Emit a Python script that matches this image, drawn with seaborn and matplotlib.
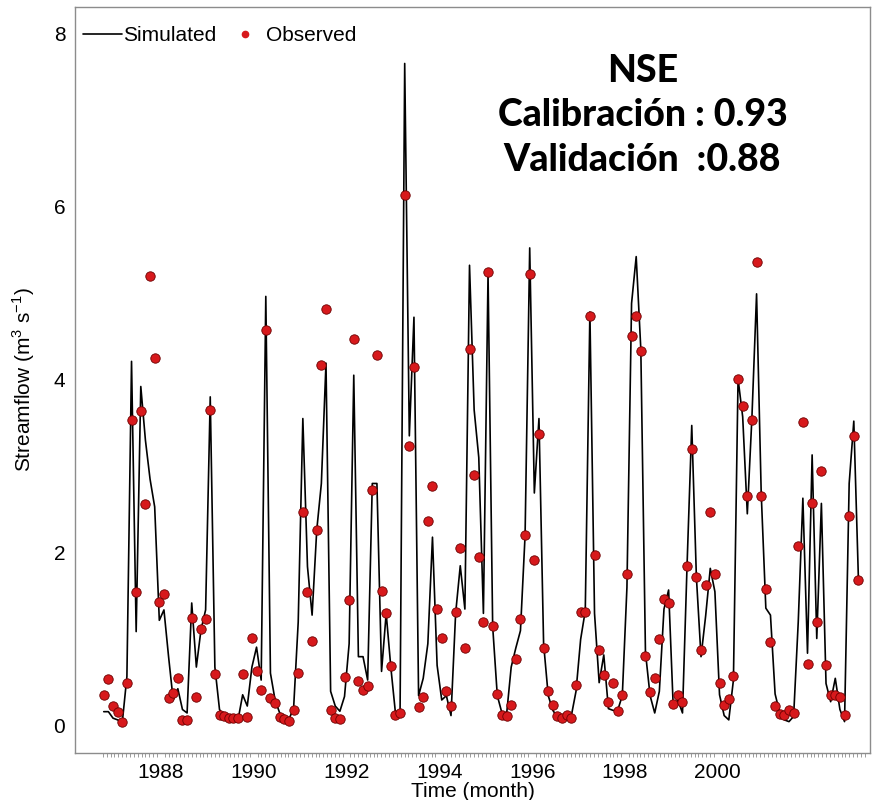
import numpy as np
import pandas as pd
import matplotlib
matplotlib.use("Agg")
import matplotlib.pyplot as plt
from matplotlib.lines import Line2D
import seaborn as sns

# Simulated and observed streamflow (m3/s), one value per time step
sim = [0.165, 0.165, 0.09, 0.07, 0.04, 0.57, 4.21, 1.09, 3.92, 3.30,
       2.85, 2.53, 1.22, 1.34, 0.80, 0.30, 0.43, 0.19, 0.15, 1.42,
       0.68, 1.11, 1.34, 3.80, 0.68, 0.19, 0.11, 0.09, 0.07, 0.07,
       0.36, 0.23, 0.68, 0.91, 0.53, 4.96, 0.61, 0.30, 0.15, 0.11,
       0.08, 0.20, 1.20, 3.55, 1.84, 1.28, 2.26, 2.80, 4.19, 0.40,
       0.23, 0.17, 0.34, 0.95, 4.05, 0.80, 0.80, 0.53, 2.80, 2.80,
       0.63, 1.30, 0.68, 0.15, 0.17, 7.65, 3.35, 4.72, 0.35, 0.55,
       0.95, 2.18, 0.70, 0.30, 0.35, 0.12, 1.30, 1.85, 1.35, 5.32,
       3.65, 3.10, 1.30, 5.22, 1.15, 0.35, 0.15, 0.13, 0.68, 0.90,
       1.10, 2.20, 5.52, 2.69, 3.55, 0.95, 0.35, 0.18, 0.10, 0.08,
       0.12, 0.12, 0.40, 1.00, 1.33, 4.78, 1.30, 0.50, 0.82, 0.20,
       0.18, 0.18, 0.35, 1.60, 4.88, 5.42, 4.35, 0.85, 0.35, 0.15,
       0.40, 1.35, 1.57, 0.22, 0.30, 0.15, 1.88, 3.47, 1.72, 0.80,
       1.27, 1.82, 1.55, 0.36, 0.12, 0.07, 0.53, 4.01, 3.57, 2.45,
       3.57, 4.99, 2.69, 1.36, 1.28, 0.37, 0.15, 0.07, 0.05, 0.11,
       1.20, 2.63, 0.84, 3.13, 1.01, 2.57, 0.49, 0.28, 0.55, 0.19,
       0.05, 2.80, 3.52, 1.69]

obs = [0.36, 0.54, 0.23, 0.16, 0.04, 0.50, 3.53, 1.55, 3.64, 2.56,
       5.20, 4.25, 1.43, 1.52, 0.32, 0.38, 0.55, 0.07, 0.07, 1.25,
       0.34, 1.12, 1.23, 3.65, 0.60, 0.13, 0.12, 0.09, 0.09, 0.09,
       0.60, 0.10, 1.02, 0.64, 0.42, 4.57, 0.32, 0.27, 0.10, 0.08,
       0.06, 0.19, 0.61, 2.47, 1.55, 0.98, 2.26, 4.17, 4.82, 0.19,
       0.09, 0.08, 0.56, 1.46, 4.47, 0.52, 0.41, 0.46, 2.73, 4.28,
       1.56, 1.30, 0.69, 0.13, 0.15, 6.13, 3.23, 4.15, 0.22, 0.33,
       2.37, 2.77, 1.35, 1.01, 0.40, 0.23, 1.32, 2.06, 0.90, 4.35,
       2.90, 1.95, 1.20, 5.24, 1.15, 0.37, 0.13, 0.12, 0.24, 0.77,
       1.24, 2.21, 5.22, 1.92, 3.37, 0.90, 0.40, 0.24, 0.11, 0.09,
       0.13, 0.09, 0.47, 1.32, 1.32, 4.73, 1.97, 0.88, 0.59, 0.28,
       0.50, 0.17, 0.36, 1.76, 4.50, 4.73, 4.33, 0.81, 0.39, 0.55,
       1.00, 1.47, 1.42, 0.25, 0.36, 0.28, 1.85, 3.20, 1.72, 0.88,
       1.63, 2.47, 1.76, 0.50, 0.24, 0.31, 0.58, 4.01, 3.69, 2.66,
       3.53, 5.36, 2.66, 1.58, 0.97, 0.23, 0.14, 0.13, 0.18, 0.15,
       2.08, 3.51, 0.71, 2.58, 1.20, 2.94, 0.70, 0.36, 0.36, 0.34,
       0.13, 2.42, 3.35, 1.69]

t_first, t_last = 1986.77, 2003.03
year_ticks = [1988, 1990, 1992, 1994, 1996, 1998, 2000]
flow_ticks = [0, 2, 4, 6, 8]
nse_lines = ["NSE", "Calibración : 0.93", "Validación  :0.88"]

time = np.linspace(t_first, t_last, len(sim))
df = pd.DataFrame({"time": time, "sim": sim, "obs": obs})

sns.set_style("white")
plt.rcParams["font.family"] = ["Liberation Sans", "DejaVu Sans"]
plt.rcParams["mathtext.fontset"] = "custom"
plt.rcParams["mathtext.rm"] = "Liberation Sans"
plt.rcParams["text.color"] = "black"
plt.rcParams["axes.labelcolor"] = "black"

fig = plt.figure(figsize=(8.79, 8.0), dpi=100)
ax = fig.add_axes([0.0853, 0.059, 0.9045, 0.932])

red = "#d7191c"
sns.lineplot(data=df, x="time", y="sim", color="black", linewidth=1.2,
             ax=ax, legend=False)
sns.scatterplot(data=df, x="time", y="obs", color=red, edgecolor="#6b0000",
                linewidth=0.6, s=46, ax=ax, legend=False, zorder=3)

ax.set_xlim(1986.15, 2003.28)
ax.set_ylim(-0.31, 8.30)
ax.set_xticks(year_ticks)
ax.set_xticks(np.arange(1986.75, 2003.2, 1 / 12), minor=True)
ax.set_yticks(flow_ticks)

for side in ["left", "bottom", "top", "right"]:
    ax.spines[side].set_color("#8c8c8c")
    ax.spines[side].set_linewidth(1.0)

ax.tick_params(axis="both", which="both", direction="out", color="#8c8c8c",
               labelcolor="black", labelsize=15, pad=3)
ax.tick_params(axis="both", which="major", length=4, width=0.8)
ax.tick_params(axis="x", which="minor", length=3, width=0.6, bottom=True)

ax.set_xlabel("Time (month)", fontsize=15, labelpad=0)
ax.set_ylabel(r"Streamflow (m$^3$ s$^{-1}$)", fontsize=15, labelpad=12)

handles = [
    Line2D([], [], color="black", linewidth=1.2, label="Simulated"),
    Line2D([], [], linestyle="none", marker="o", markersize=4.5,
           markerfacecolor=red, markeredgecolor=red, label="Observed"),
]
ax.legend(handles=handles, loc="upper left", bbox_to_anchor=(-0.006, 0.991),
          ncol=2, frameon=False, fontsize=15, handlelength=1.9,
          handletextpad=0.05, columnspacing=0.4, borderaxespad=0.2)

for txt, y in zip(nse_lines, [82, 126, 171]):
    fig.text(0.731, 1 - y / 800, txt, ha="center", va="baseline",
             fontsize=27, fontweight=900, color="black",
             family=["Lato", "DejaVu Sans"])

fig.savefig("out.png", dpi=100, facecolor="white")
